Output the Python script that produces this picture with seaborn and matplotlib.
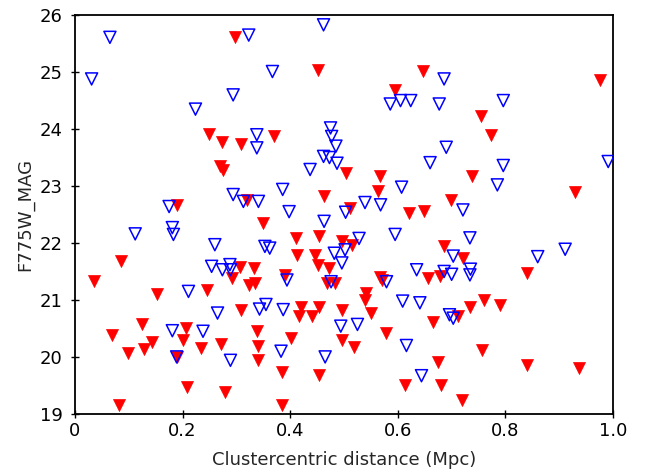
import matplotlib
matplotlib.use("Agg")
import matplotlib.pyplot as plt
import seaborn as sns
import pandas as pd

# Red filled triangles
red_x = [0.297, 0.452, 0.646, 0.595, 0.976, 0.754, 0.773, 0.249, 0.274, 0.309,
         0.369, 0.270, 0.276, 0.319, 0.189, 0.503, 0.567, 0.564, 0.462, 0.511,
         0.621, 0.649, 0.350, 0.410, 0.453, 0.496, 0.514, 0.412, 0.447, 0.452,
         0.472, 0.685, 0.737, 0.929, 0.698, 0.721, 0.841, 0.085, 0.307, 0.333,
         0.291, 0.036, 0.390, 0.566, 0.571, 0.656, 0.678, 0.323, 0.335, 0.245,
         0.152, 0.469, 0.483, 0.541, 0.539, 0.309, 0.124, 0.068, 0.206, 0.200,
         0.143, 0.271, 0.235, 0.129, 0.099, 0.339, 0.340, 0.340, 0.189, 0.209,
         0.279, 0.082, 0.420, 0.417, 0.441, 0.454, 0.496, 0.551, 0.665, 0.578,
         0.401, 0.496, 0.519, 0.674, 0.385, 0.454, 0.613, 0.680, 0.385, 0.761,
         0.789, 0.735, 0.712, 0.756, 0.841, 0.936, 0.719]
red_y = [25.62, 25.04, 25.02, 24.68, 24.86, 24.23, 23.90, 23.92, 23.77, 23.74,
         23.88, 23.35, 23.28, 22.76, 22.67, 23.23, 23.18, 22.91, 22.83, 22.61,
         22.53, 22.57, 22.35, 22.09, 22.13, 22.03, 21.97, 21.79, 21.79, 21.62,
         21.56, 21.94, 23.17, 22.89, 22.76, 21.74, 21.47, 21.68, 21.57, 21.56,
         21.39, 21.33, 21.44, 21.40, 21.35, 21.38, 21.42, 21.27, 21.30, 21.18,
         21.11, 21.30, 21.29, 21.12, 21.00, 20.83, 20.57, 20.39, 20.51, 20.29,
         20.27, 20.23, 20.16, 20.14, 20.06, 20.45, 20.19, 19.95, 20.00, 19.48,
         19.38, 19.16, 20.88, 20.71, 20.71, 20.88, 20.83, 20.77, 20.62, 20.42,
         20.33, 20.29, 20.18, 19.91, 19.73, 19.69, 19.51, 19.50, 19.16, 21.00,
         20.92, 20.88, 20.71, 20.13, 19.85, 19.81, 19.24]

# Blue open triangles
blue_x = [0.065, 0.031, 0.323, 0.294, 0.224, 0.338, 0.338, 0.462, 0.367, 0.686,
          0.586, 0.605, 0.624, 0.677, 0.475, 0.477, 0.485, 0.690, 0.796, 0.294,
          0.313, 0.341, 0.175, 0.112, 0.181, 0.183, 0.260, 0.254, 0.274, 0.288,
          0.289, 0.462, 0.473, 0.487, 0.660, 0.437, 0.607, 0.386, 0.539, 0.568,
          0.503, 0.398, 0.463, 0.595, 0.528, 0.502, 0.482, 0.353, 0.362, 0.496,
          0.635, 0.579, 0.686, 0.394, 0.476, 0.991, 0.796, 0.785, 0.721, 0.734,
          0.703, 0.911, 0.860, 0.735, 0.734, 0.700, 0.211, 0.265, 0.343, 0.181,
          0.238, 0.189, 0.289, 0.355, 0.387, 0.609, 0.641, 0.696, 0.494, 0.525,
          0.383, 0.616, 0.465, 0.644, 0.703]
blue_y = [25.61, 24.88, 25.65, 24.60, 24.35, 23.90, 23.67, 25.83, 25.01, 24.88,
          24.44, 24.50, 24.50, 24.44, 24.02, 23.87, 23.70, 23.68, 24.50, 22.85,
          22.73, 22.73, 22.64, 22.16, 22.27, 22.15, 21.97, 21.59, 21.53, 21.62,
          21.53, 23.52, 23.50, 23.40, 23.41, 23.29, 22.98, 22.94, 22.71, 22.67,
          22.54, 22.55, 22.38, 22.15, 22.08, 21.88, 21.82, 21.94, 21.91, 21.65,
          21.53, 21.32, 21.50, 21.35, 21.32, 23.43, 23.36, 23.02, 22.58, 22.09,
          21.77, 21.89, 21.76, 21.54, 21.44, 21.45, 21.15, 20.77, 20.84, 20.46,
          20.45, 20.00, 19.94, 20.92, 20.83, 20.98, 20.95, 20.74, 20.54, 20.57,
          20.10, 20.20, 20.00, 19.67, 20.68]

x_ticks = [0, 0.2, 0.4, 0.6, 0.8, 1.0]
x_tick_labels = ["0", "0.2", "0.4", "0.6", "0.8", "1.0"]
y_ticks = [19, 20, 21, 22, 23, 24, 25, 26]

sns.set_style("white")
plt.rcParams['font.family'] = ['DejaVu Sans']

fig = plt.figure(figsize=(6.46, 4.73), dpi=100)
ax = fig.add_axes([0.116, 0.125, 0.833, 0.843])

red_df = pd.DataFrame({"x": red_x, "y": red_y})
blue_df = pd.DataFrame({"x": blue_x, "y": blue_y})

sns.scatterplot(data=blue_df, x="x", y="y", marker="v", s=75,
                facecolor="none", edgecolor="#0000ff", linewidth=1.1, ax=ax, zorder=3)
sns.scatterplot(data=red_df, x="x", y="y", marker="v", s=75,
                color="#ff0000", edgecolor="#ff0000", linewidth=0.5, ax=ax, zorder=2)

ax.set_xlim(0, 1.0)
ax.set_ylim(19, 26)
ax.set_xticks(x_ticks)
ax.set_xticklabels(x_tick_labels)
ax.set_yticks(y_ticks)
ax.tick_params(axis="both", which="both", direction="inout", length=6, width=1,
               labelsize=13, colors="black", left=True, bottom=True, top=False, right=False)
ax.tick_params(axis="y", pad=6)
ax.tick_params(axis="x", pad=3)
for sp in ax.spines.values():
    sp.set_color("black")
    sp.set_linewidth(1.3)
ax.set_xlabel("Clustercentric distance (Mpc)", fontsize=13, labelpad=8)
ax.set_ylabel("F775W_MAG", fontsize=13, labelpad=4)
ax.grid(False)

fig.savefig("out.png", dpi=100)
